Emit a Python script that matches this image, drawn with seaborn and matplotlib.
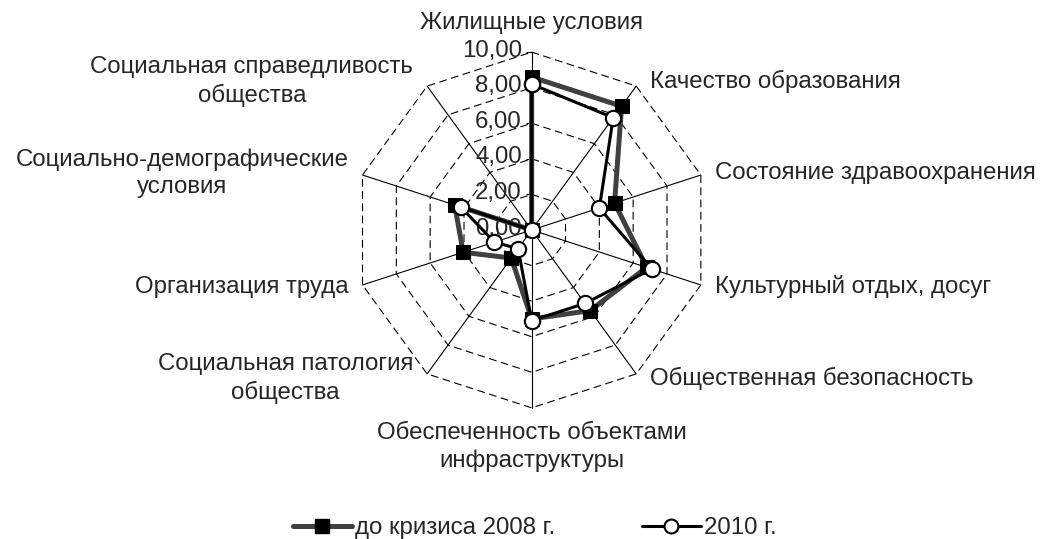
import numpy as np
import pandas as pd
import seaborn as sns
import matplotlib.pyplot as plt
from matplotlib.lines import Line2D

sns.set_style('white')
plt.rcParams['font.family'] = ['Liberation Sans', 'DejaVu Sans']

categories = [
    'Жилищные условия',
    'Качество образования',
    'Состояние здравоохранения',
    'Культурный отдых, досуг',
    'Общественная безопасность',
    'Обеспеченность объектами\nинфраструктуры',
    'Социальная патология\nобщества',
    'Организация труда',
    'Социально-демографические\nусловия',
    'Социальная справедливость\nобщества',
]
before_crisis = [8.6, 8.6, 4.9, 6.8, 5.6, 5.0, 1.95, 4.05, 4.55, 0.0]
year_2010 = [8.2, 7.8, 4.0, 7.1, 5.1, 5.1, 1.3, 2.2, 4.2, 0.0]
levels = [2, 4, 6, 8, 10]
tick_labels = ['0,00', '2,00', '4,00', '6,00', '8,00', '10,00']
series_names = ['до кризиса 2008 г.', '2010 г.']

FS = 17.3

n = len(categories)
theta = np.linspace(0, 2 * np.pi, n, endpoint=False)
theta_closed = np.append(theta, 2 * np.pi)

df = pd.DataFrame({
    'theta': np.concatenate([theta_closed, theta_closed]),
    'value': np.concatenate([before_crisis + before_crisis[:1], year_2010 + year_2010[:1]]),
    'series': [series_names[0]] * (n + 1) + [series_names[1]] * (n + 1),
})

fig = plt.figure(figsize=(10.47, 5.39), dpi=100)
ax = fig.add_axes([0.3378, 0.2433, 0.340, 0.660], projection='polar')
ax.set_theta_zero_location('N')
ax.set_theta_direction(-1)
ax.grid(False)
ax.spines['polar'].set_visible(False)
ax.patch.set_alpha(0)

# polygon grid and spokes
for lv in levels:
    ax.plot(theta_closed, [lv] * (n + 1), color='black', lw=0.8, ls=(0, (7, 4)), clip_on=False, zorder=1)
for t in theta:
    ax.plot([t, t], [0, 10], color='black', lw=0.8, clip_on=False, zorder=1)

# value axis ticks and labels on the top spoke
for i, lab in enumerate(tick_labels):
    r = i * 2
    ax.plot([0], [r], marker=[(-1, 0), (0, 0)], markersize=9, color='black', mew=0.8, clip_on=False, zorder=2)
    ax.annotate(lab, xy=(0, r), xytext=(-7, 1), textcoords='offset points',
                ha='right', va='center', fontsize=FS)

d1 = df[df['series'] == series_names[0]]
d2 = df[df['series'] == series_names[1]]
sns.lineplot(data=d1, x='theta', y='value', sort=False, ax=ax, color='#404040', lw=3.6,
             marker='s', markersize=10, markerfacecolor='black', markeredgecolor='black',
             clip_on=False, zorder=3)
sns.lineplot(data=d2, x='theta', y='value', sort=False, ax=ax, color='black', lw=2.2,
             marker='o', markersize=11, markerfacecolor='white', markeredgecolor='black',
             markeredgewidth=1.5, clip_on=False, zorder=4)
ax.set_xlabel('')
ax.set_ylabel('')
ax.set_xticks([])
ax.set_yticks([])
ax.set_ylim(0, 10)

# category labels
for t, lab in zip(theta, categories):
    s, c = np.sin(t), np.cos(t)
    if abs(s) < 1e-6:
        if c > 0:
            ax.annotate(lab, xy=(t, 10), xytext=(0, 13), textcoords='offset points',
                        ha='center', va='bottom', fontsize=FS)
        else:
            ax.annotate(lab, xy=(t, 10), xytext=(0, -10), textcoords='offset points',
                        ha='center', va='top', fontsize=FS, multialignment='center',
                        linespacing=1.3)
    else:
        ax.annotate(lab, xy=(t, 10), xytext=(10 * np.sign(s), 4 * c), textcoords='offset points',
                    ha='left' if s > 0 else 'right', va='center', fontsize=FS,
                    multialignment='center', linespacing=1.3)

handles = [
    Line2D([], [], color='#404040', lw=3.6, marker='s', markersize=10,
           markerfacecolor='black', markeredgecolor='black'),
    Line2D([], [], color='black', lw=2.2, marker='o', markersize=10,
           markerfacecolor='white', markeredgecolor='black', markeredgewidth=1.5),
]
fig.legend(handles, series_names, loc='center', bbox_to_anchor=(0.511, 0.02), ncol=2,
           frameon=False, fontsize=FS, handlelength=2.45, handletextpad=0.15,
           columnspacing=3.6, borderpad=0)

fig.savefig('out.png', dpi=100)
